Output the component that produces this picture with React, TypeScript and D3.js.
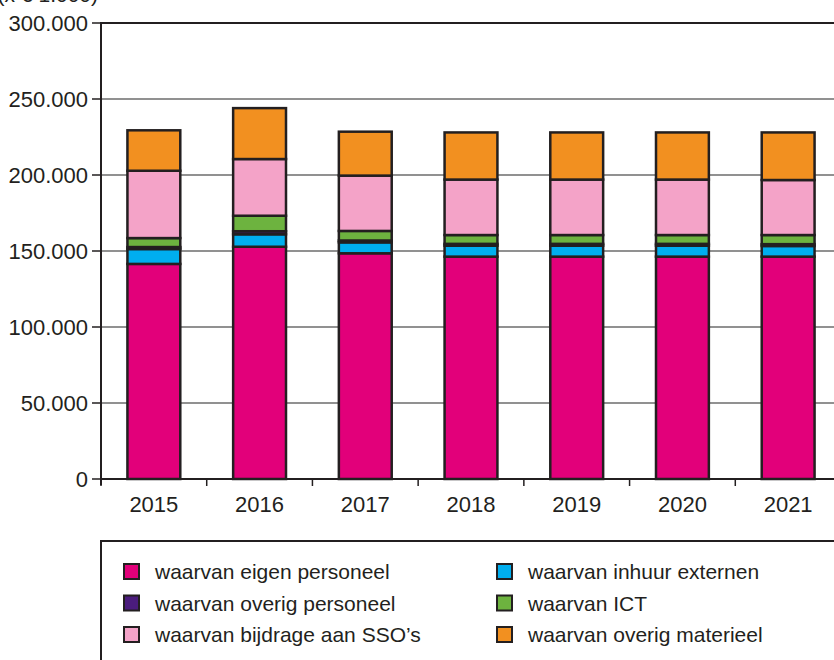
import React, { useEffect, useRef } from 'react'
import * as d3 from 'd3';

const width = 834;
const height = 660;
const margin = { top: 23, right: -7, bottom: 181, left: 101 };
const fontFamily = '"Liberation Sans", Arial, Helvetica, sans-serif';

// jaren en bedragen (x € 1.000)
const years = ['2015', '2016', '2017', '2018', '2019', '2020', '2021'];
const eigenPersoneel = [141500, 152800, 148500, 146300, 146300, 146300, 146300];
const inhuurExternen = [9800, 8200, 7200, 7200, 7200, 7200, 7000];
const overigPersoneel = [1300, 2000, 1200, 1200, 1200, 1200, 1200];
const ict = [5900, 10200, 6300, 5800, 5800, 5800, 6000];
const bijdrageSSO = [44300, 37300, 36400, 36500, 36500, 36500, 36200];
const overigMaterieel = [26600, 33500, 28900, 31000, 31000, 31000, 31300];

const seriesKeys = ['eigen', 'inhuur', 'overigPers', 'ict', 'sso', 'materieel'];
const seriesLabels = [
  'waarvan eigen personeel',
  'waarvan inhuur externen',
  'waarvan overig personeel',
  'waarvan ICT',
  'waarvan bijdrage aan SSO\u2019s',
  'waarvan overig materieel',
];
const seriesColors = ['#E2007A', '#00AEEF', '#4B1C7D', '#6DB33F', '#F4A3C8', '#F29020'];
// volgorde in de legenda (twee kolommen)
const legendOrder = [0, 2, 4, 1, 3, 5];
const yTicks = [0, 50000, 100000, 150000, 200000, 250000, 300000];

function App() {
  const ref = useRef(null);

  useEffect(() => {
    const svg = d3.select(ref.current);
    svg.selectAll('*').remove();

    const nl = d3.formatLocale({ decimal: ',', thousands: '.', grouping: [3], currency: ['€ ', ''] });
    const fmt = nl.format(',d');

    const rows = years.map((y, i) => ({
      year: y,
      eigen: eigenPersoneel[i],
      inhuur: inhuurExternen[i],
      overigPers: overigPersoneel[i],
      ict: ict[i],
      sso: bijdrageSSO[i],
      materieel: overigMaterieel[i],
    }));

    const x = d3.scaleBand()
      .domain(years)
      .range([margin.left, width - margin.right])
      .paddingInner(0.5)
      .paddingOuter(0.25);

    const y = d3.scaleLinear()
      .domain([0, 300000])
      .range([height - margin.bottom, margin.top]);

    // titel (afgesneden bovenaan)
    svg.append('text')
      .attr('x', 98)
      .attr('y', 2)
      .attr('text-anchor', 'end')
      .style('font-family', fontFamily)
      .style('font-size', '21px')
      .attr('fill', '#231F20')
      .text('(x € 1.000)');

    // rasterlijnen
    svg.append('g')
      .selectAll('line')
      .data(yTicks.slice(1))
      .enter()
      .append('line')
      .attr('x1', margin.left)
      .attr('x2', width)
      .attr('y1', (d) => y(d))
      .attr('y2', (d) => y(d))
      .attr('stroke', (d) => d === 300000 ? '#231F20' : '#6d6d6d')
      .attr('stroke-width', (d) => d === 300000 ? 2 : 1.5);

    // y-as ticks en labels
    const yAxis = svg.append('g');
    yAxis.selectAll('line')
      .data(yTicks)
      .enter()
      .append('line')
      .attr('x1', 92)
      .attr('x2', margin.left)
      .attr('y1', (d) => y(d))
      .attr('y2', (d) => y(d))
      .attr('stroke', '#231F20')
      .attr('stroke-width', 1.5);
    yAxis.selectAll('text')
      .data(yTicks)
      .enter()
      .append('text')
      .attr('x', 88)
      .attr('y', (d) => y(d))
      .attr('dy', '0.36em')
      .attr('text-anchor', 'end')
      .style('font-family', fontFamily)
      .style('font-size', '22px')
      .attr('fill', '#231F20')
      .text((d) => fmt(d));

    // gestapelde staven
    const stacked = d3.stack().keys(seriesKeys)(rows);
    svg.append('g')
      .selectAll('g')
      .data(stacked)
      .enter()
      .append('g')
      .attr('fill', (_, i) => seriesColors[i])
      .selectAll('rect')
      .data((d) => d)
      .enter()
      .append('rect')
      .attr('x', (d) => x(d.data.year))
      .attr('width', x.bandwidth())
      .attr('y', (d) => y(d[1]))
      .attr('height', (d) => y(d[0]) - y(d[1]))
      .attr('stroke', '#231F20')
      .attr('stroke-width', 2.5);

    // assen
    svg.append('line')
      .attr('x1', margin.left)
      .attr('x2', margin.left)
      .attr('y1', margin.top - 1)
      .attr('y2', y(0) + 6)
      .attr('stroke', '#231F20')
      .attr('stroke-width', 2);
    svg.append('line')
      .attr('x1', margin.left)
      .attr('x2', width)
      .attr('y1', y(0))
      .attr('y2', y(0))
      .attr('stroke', '#231F20')
      .attr('stroke-width', 2);

    // x-as ticks tussen de staven
    const step = x.step();
    svg.append('g')
      .selectAll('line')
      .data(years)
      .enter()
      .append('line')
      .attr('x1', (d) => x(d) - x.paddingOuter() * step)
      .attr('x2', (d) => x(d) - x.paddingOuter() * step)
      .attr('y1', y(0))
      .attr('y2', y(0) + 7)
      .attr('stroke', '#231F20')
      .attr('stroke-width', 1.5);
    svg.append('g')
      .selectAll('text')
      .data(years)
      .enter()
      .append('text')
      .attr('x', (d) => x(d) + x.bandwidth() / 2)
      .attr('y', y(0) + 33)
      .attr('text-anchor', 'middle')
      .style('font-family', fontFamily)
      .style('font-size', '22px')
      .attr('fill', '#231F20')
      .text((d) => d);

    // legenda
    const legend = svg.append('g');
    legend.append('rect')
      .attr('x', margin.left)
      .attr('y', 541)
      .attr('width', 800)
      .attr('height', 200)
      .attr('fill', 'none')
      .attr('stroke', '#231F20')
      .attr('stroke-width', 2);

    const items = legend.selectAll('g.item')
      .data(legendOrder)
      .enter()
      .append('g')
      .attr('class', 'item')
      .attr('transform', (_, i) => {
        const col = Math.floor(i / 3);
        const row = i % 3;
        return 'translate(' + (124 + col * 373) + ',' + (564 + row * 31.5) + ')';
      });
    items.append('rect')
      .attr('width', 15)
      .attr('height', 15)
      .attr('fill', (d) => seriesColors[d])
      .attr('stroke', '#231F20')
      .attr('stroke-width', 2);
    items.append('text')
      .attr('x', 31)
      .attr('y', 15)
      .style('font-family', fontFamily)
      .style('font-size', '21px')
      .attr('fill', '#231F20')
      .text((d) => seriesLabels[d]);
  }, []);

  return (
    <svg
      ref={ref}
      width={width}
      height={height}
      style={{ position: 'absolute', left: 0, top: 0, background: '#fff' }}
    />
  );
}

export default App;
